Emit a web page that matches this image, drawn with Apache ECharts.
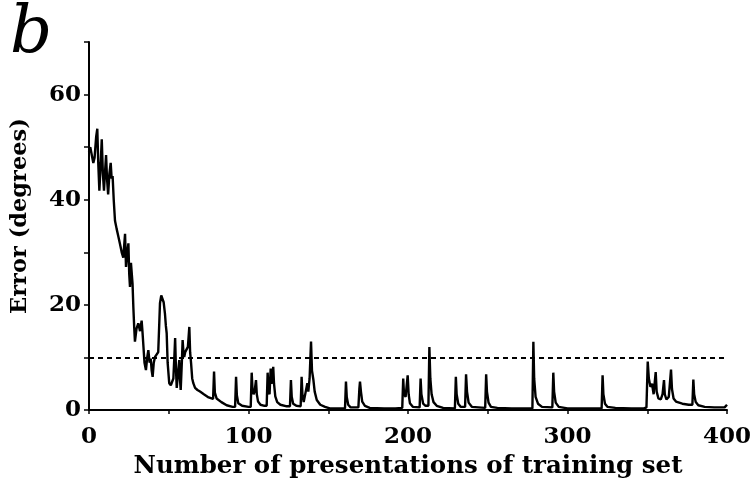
<!DOCTYPE html>
<html>
<head>
<meta charset="utf-8">
<script src="https://cdn.jsdelivr.net/npm/echarts@6/dist/echarts.min.js"></script>
<style>html,body{margin:0;padding:0;background:#fff;}#chart{width:755px;height:490px;}</style>
</head>
<body>
<div id="chart"></div>
<script>
// Error curve: [presentations, error in degrees]
const errorCurve = [
[0,49],[0.8,50],[1.7,50],[2.7,47],[3.5,48],[4.5,52],[5.2,53.5],[5.8,47],[6.5,41.7],[7.2,46],[8,51.5],[8.7,45],[9.4,41.7],[10,45],[10.7,48.5],[11.3,44],[12,41],[12.8,45],[13.6,47],[14.2,44],[14.8,44.5],[15.5,40],[16.3,36],[17.3,34.5],[18.4,33],[19.5,31.5],[20.5,30],[21.5,29],[22.6,33.5],[23.2,27.2],[24,30],[24.7,31.7],[25.2,26],[25.7,23.4],[26.3,28],[26.7,27.9],[27.3,24],[27.8,19.6],[28.3,16],[28.8,13],[29.8,15.5],[30.9,16.5],[32,15],[33,17],[33.5,15],[34,12.7],[34.8,9],[35.7,7.6],[36.5,10],[37.2,11.4],[38,9],[38.7,9.8],[39.3,7.5],[39.9,6.3],[40.6,9],[41.4,10.1],[42.4,10],[43.4,11],[44,16],[44.5,20.3],[45.3,21.8],[46.1,22],[46.8,20.5],[47.6,18.4],[48.2,16],[48.7,14.6],[49.3,9],[50.3,5.1],[51.3,4.7],[52.3,4.8],[52.9,6],[53.5,10],[54,13.7],[54.5,8],[55,4.2],[55.8,7],[56.6,9.5],[57,6],[57.5,3.8],[58.2,9],[58.7,13.3],[59.2,11],[59.7,10.1],[60.3,11],[61.2,10.8],[62,12],[62.9,15.8],[63.4,11],[64,8.9],[64.7,6],[65.4,5.1],[66.5,4.2],[68,3.8],[69.6,3.5],[72,3],[75,2.4],[77.8,2.1],[78.4,7.3],[78.9,3.3],[80,2.2],[83,1.5],[86.3,0.9],[90,0.6],[91.6,0.6],[92.2,6.3],[92.7,2.8],[93.6,1.3],[96,0.8],[100,0.6],
[101.4,0.6],[102,7.1],[102.5,4],[103.2,3.0],[103.8,3.5],[104.7,5.7],[105.2,3],[106,1.6],[107.5,1],[110,0.8],
[111.4,0.8],[112,7.1],[112.6,3.5],[113.2,3.0],[113.9,7.9],[114.4,5],[115,6],[115.5,8.2],[116,5],[116.8,2.6],[118,1.5],[120,1],[124,0.7],
[126,0.7],[126.6,5.7],[127.1,2.5],[128,1.2],[130,0.8],[132.7,0.7],[133.3,6.3],[133.8,3],[134.6,1.5],[135.8,1.6],[136.9,5.1],[137.5,3.5],[138.3,6],[139.2,13],[139.8,7.5],[140.7,5.7],[141.5,3.5],[142.8,1.9],[145,1],[148,0.6],[151,0.3],
[158,0.3],[160.5,0.3],[161.1,5.4],[161.6,2.5],[162.5,1],[164,0.5],[168.9,0.5],[169.5,4],[169.9,5.4],[170.5,3.5],[171.3,1.6],[173,0.8],[176,0.4],[185,0.3],[192,0.3],
[196.4,0.4],[197,6],[197.5,3],[198.5,2.5],[199.8,6.6],[200.4,3],[201.2,1.3],[203,0.6],[207.3,0.5],[207.9,6],[208.4,3],[209.5,1.2],[211,0.8],[212.8,0.8],[213.4,12],[214,6],[214.8,3],[216,1.5],[218,0.8],[222,0.4],
[229.4,0.3],[230,6.3],[230.5,3],[231.5,1.2],[233,0.6],[235.8,0.6],[236.4,6.8],[237,3.5],[238,1.4],[240,0.6],[248.4,0.4],[249,6.8],[249.5,3.5],[250.5,1.4],[252,0.6],[256,0.4],[265,0.3],
[278,0.3],[278.6,13],[279.1,6],[280,2.5],[281.5,1.2],[284,0.6],[290.5,0.5],[291.1,7.1],[291.6,3.5],[292.6,1.4],[294.5,0.6],[300,0.3],[310,0.3],
[321.4,0.3],[322,6.6],[322.5,3],[323.5,1.2],[325,0.6],[330,0.4],[340,0.3],[348,0.3],
[349.5,0.5],[350.3,9.2],[351,6],[352,4.4],[353,5],[354,3],[355.3,7.2],[355.9,3.5],[357,2.2],[358.5,2],[359.6,3],[360.5,5.7],[361,3],[362,2],[363.5,2.5],[364.9,7.7],[365.5,4],[366.5,2.2],[368,1.6],[372,1.2],[376,1],[378.3,1],[378.9,5.8],[379.4,3],[380.4,1.5],[382,0.9],[386,0.6],[392,0.5],[396,0.5],[398.5,0.5],[399.5,0.7],[400,1]
];
const criterion = 10;
const xTicks = [0, 100, 200, 300, 400];
const yTicks = [0, 20, 40, 60];

const serif = '"DejaVu Serif", "Liberation Serif", serif';
const chart = echarts.init(document.getElementById('chart'), null, {renderer: 'canvas'});
chart.setOption({
  animation: false,
  backgroundColor: '#fff',
  grid: {left: 89, right: 28, top: 42, bottom: 80, containLabel: false},
  graphic: [{
    type: 'text', left: 10, top: 2,
    style: {text: 'b', font: 'italic 66px ' + serif, fill: '#000'}
  }],
  xAxis: {
    type: 'value', min: 0, max: 400, interval: 50,
    name: 'Number of presentations of training set',
    nameLocation: 'middle', nameGap: 44,
    nameTextStyle: {fontFamily: serif, fontWeight: 'bold', fontSize: 24.5, color: '#000'},
    axisLine: {show: true, onZero: false, lineStyle: {color: '#000', width: 2}},
    axisTick: {show: true, inside: false, length: 4, lineStyle: {color: '#000', width: 1.5}},
    axisLabel: {
      margin: 16, color: '#000', fontFamily: serif, fontWeight: 'bold', fontSize: 23,
      formatter: v => xTicks.indexOf(v) >= 0 ? String(v) : ''
    },
    splitLine: {show: false}
  },
  yAxis: {
    type: 'value', min: 0, max: 70, interval: 10,
    name: 'Error (degrees)',
    nameLocation: 'middle', nameGap: 57,
    nameTextStyle: {fontFamily: serif, fontWeight: 'bold', fontSize: 22.5, color: '#000', padding: [0, 0, 0, 20]},
    axisLine: {show: true, lineStyle: {color: '#000', width: 2}},
    axisTick: {show: true, inside: false, length: 5, lineStyle: {color: '#000', width: 1.5}},
    axisLabel: {
      margin: 8, color: '#000', fontFamily: serif, fontWeight: 'bold', fontSize: 23,
      formatter: v => yTicks.indexOf(v) >= 0 ? String(v) : ''
    },
    splitLine: {show: false}
  },
  series: [{
    type: 'line',
    data: errorCurve,
    showSymbol: false,
    symbol: 'none',
    lineStyle: {color: '#000', width: 2.4},
    z: 3,
    markLine: {
      silent: true, symbol: 'none', label: {show: false},
      lineStyle: {color: '#000', type: [5, 4], width: 2},
      data: [{yAxis: criterion}]
    }
  }]
});
</script>
</body>
</html>
